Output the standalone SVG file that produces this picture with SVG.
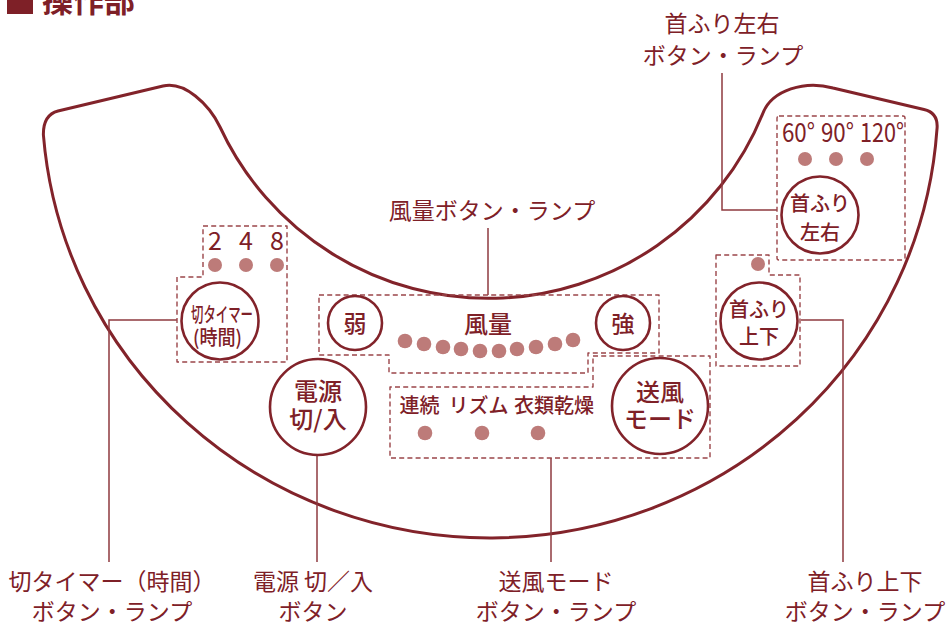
<svg xmlns="http://www.w3.org/2000/svg" width="951" height="625" viewBox="0 0 951 625">
<style>
text{font-family:"Noto Sans CJK JP","Noto Sans",sans-serif;fill:#7e2027}
.lbl{font-size:23px;text-anchor:middle}
.in{font-weight:500;text-anchor:middle}
.num{font-size:25px;text-anchor:middle}
.deg{font-size:26px}
.btn{fill:none;stroke:#82232a;stroke-width:2.6}
.box{fill:none;stroke:#9b4549;stroke-width:1.4;stroke-dasharray:5 3.2;stroke-linejoin:round}
.lamp{fill:#bd7b79}
.lead{fill:none;stroke:#8e3a3f;stroke-width:1.5}
</style>
<rect width="951" height="625" fill="#ffffff"/>
<g id="header">
<rect x="7" y="-12" width="26" height="26" fill="#7e2027"/>
<text x="42" y="12" style="font-size:31px;font-weight:700">操作部</text>
</g>
<path id="panel" d="M 43.4 135 A 448 438 0 0 0 936.9 130 Q 939 113 924 109.5 L 833 88 C 805 80 772 90 763 113 A 296 296 0 0 1 220 127 C 209 104 184.4 80.9 163 86 L 58 111 Q 43 115 43.4 135 Z" fill="none" stroke="#82232a" stroke-width="3"/>
<g id="connectors">
<polyline class="lead" points="177,320 109,320 109,562"/>
<line class="lead" x1="317" y1="455" x2="317" y2="562"/>
<line class="lead" x1="551" y1="458" x2="551" y2="562"/>
<polyline class="lead" points="801,320 843,320 843,562"/>
<polyline class="lead" points="722,73 722,210 777,210"/>
<line class="lead" x1="488" y1="228" x2="488" y2="295"/>
</g>
<g id="timer">
<path class="box" d="M203,226 H287 V362 H177 V277 H203 Z"/>
<text class="num" x="215" y="250">2</text>
<text class="num" x="246" y="250">4</text>
<text class="num" x="277" y="250">8</text>
<circle class="lamp" cx="215" cy="265" r="7"/>
<circle class="lamp" cx="246" cy="265" r="7"/>
<circle class="lamp" cx="277" cy="265" r="7"/>
<circle class="btn" cx="220" cy="321" r="38.5"/>
<text class="in" x="222" y="322.4" style="font-size:20px" textLength="62" lengthAdjust="spacingAndGlyphs">切タイマー</text>
<text class="in" x="217.5" y="345.4" style="font-size:20px" textLength="49" lengthAdjust="spacingAndGlyphs">(時間)</text>
</g>
<g id="power">
<circle class="btn" cx="318" cy="407" r="48"/>
<text class="in" x="318" y="400" style="font-size:24px">電源</text>
<text class="in" x="318" y="428" style="font-size:24px">切/入</text>
</g>
<g id="wind">
<path class="box" d="M319,295 H659 V353 H588 V373 H389 V355 H319 Z"/>
<circle class="btn" cx="355" cy="323" r="27"/>
<text class="in" x="355" y="331.5" style="font-size:23px">弱</text>
<circle class="btn" cx="623" cy="323" r="27"/>
<text class="in" x="623" y="331.5" style="font-size:23px">強</text>
<text class="in" x="488" y="333" style="font-size:24px">風量</text>
<circle class="lamp" cx="405" cy="341" r="7.3"/>
<circle class="lamp" cx="424" cy="344" r="7.3"/>
<circle class="lamp" cx="443" cy="347" r="7.3"/>
<circle class="lamp" cx="461" cy="349" r="7.3"/>
<circle class="lamp" cx="480" cy="351" r="7.3"/>
<circle class="lamp" cx="499" cy="351" r="7.3"/>
<circle class="lamp" cx="517" cy="349" r="7.3"/>
<circle class="lamp" cx="536" cy="347" r="7.3"/>
<circle class="lamp" cx="555" cy="344" r="7.3"/>
<circle class="lamp" cx="573" cy="340" r="7.3"/>
</g>
<g id="mode">
<path class="box" d="M593,356 H710 V458 H390 V387 H593 Z"/>
<text class="in" x="419.5" y="413.4" style="font-size:20px">連続</text>
<text class="in" x="478.5" y="413.4" style="font-size:20px">リズム</text>
<text class="in" x="554" y="413.4" style="font-size:20px">衣類乾燥</text>
<circle class="lamp" cx="425" cy="433" r="7.3"/>
<circle class="lamp" cx="482" cy="433" r="7.3"/>
<circle class="lamp" cx="538" cy="433" r="7.3"/>
<circle class="btn" cx="660" cy="406" r="48"/>
<text class="in" x="660" y="401" style="font-size:24px">送風</text>
<text class="in" x="660" y="428" style="font-size:24px">モード</text>
</g>
<g id="swing-lr">
<rect class="box" x="777" y="116" width="128" height="144" rx="2"/>
<text class="deg" x="782" y="142" textLength="33" lengthAdjust="spacingAndGlyphs">60°</text>
<text class="deg" x="821" y="142" textLength="33" lengthAdjust="spacingAndGlyphs">90°</text>
<text class="deg" x="860" y="142" textLength="44" lengthAdjust="spacingAndGlyphs">120°</text>
<circle class="lamp" cx="805" cy="159" r="7"/>
<circle class="lamp" cx="836" cy="159" r="7"/>
<circle class="lamp" cx="867" cy="159" r="7"/>
<circle class="btn" cx="820" cy="215" r="38.5"/>
<text class="in" x="820" y="211.4" style="font-size:20px">首ふり</text>
<text class="in" x="820" y="240" style="font-size:20px">左右</text>
</g>
<g id="swing-ud">
<path class="box" d="M716,255 H769 V275 H800 V366 H716 Z"/>
<circle class="lamp" cx="758" cy="264" r="7"/>
<circle class="btn" cx="759" cy="321" r="38.5"/>
<text class="in" x="759" y="317.4" style="font-size:20px">首ふり</text>
<text class="in" x="759" y="344.4" style="font-size:20px">上下</text>
</g>
<g id="labels">
<text class="lbl" x="722" y="31.5">首ふり左右</text>
<text class="lbl" x="723" y="63.5">ボタン・ランプ</text>
<text class="lbl" x="492" y="218.5">風量ボタン・ランプ</text>
<text class="lbl" x="112" y="590">切タイマー（時間）</text>
<text class="lbl" x="112" y="620">ボタン・ランプ</text>
<text class="lbl" x="313" y="590">電源 切／入</text>
<text class="lbl" x="313" y="620">ボタン</text>
<text class="lbl" x="556" y="590">送風モード</text>
<text class="lbl" x="556" y="620">ボタン・ランプ</text>
<text class="lbl" x="865" y="590">首ふり上下</text>
<text class="lbl" x="865" y="620">ボタン・ランプ</text>
</g>
</svg>
